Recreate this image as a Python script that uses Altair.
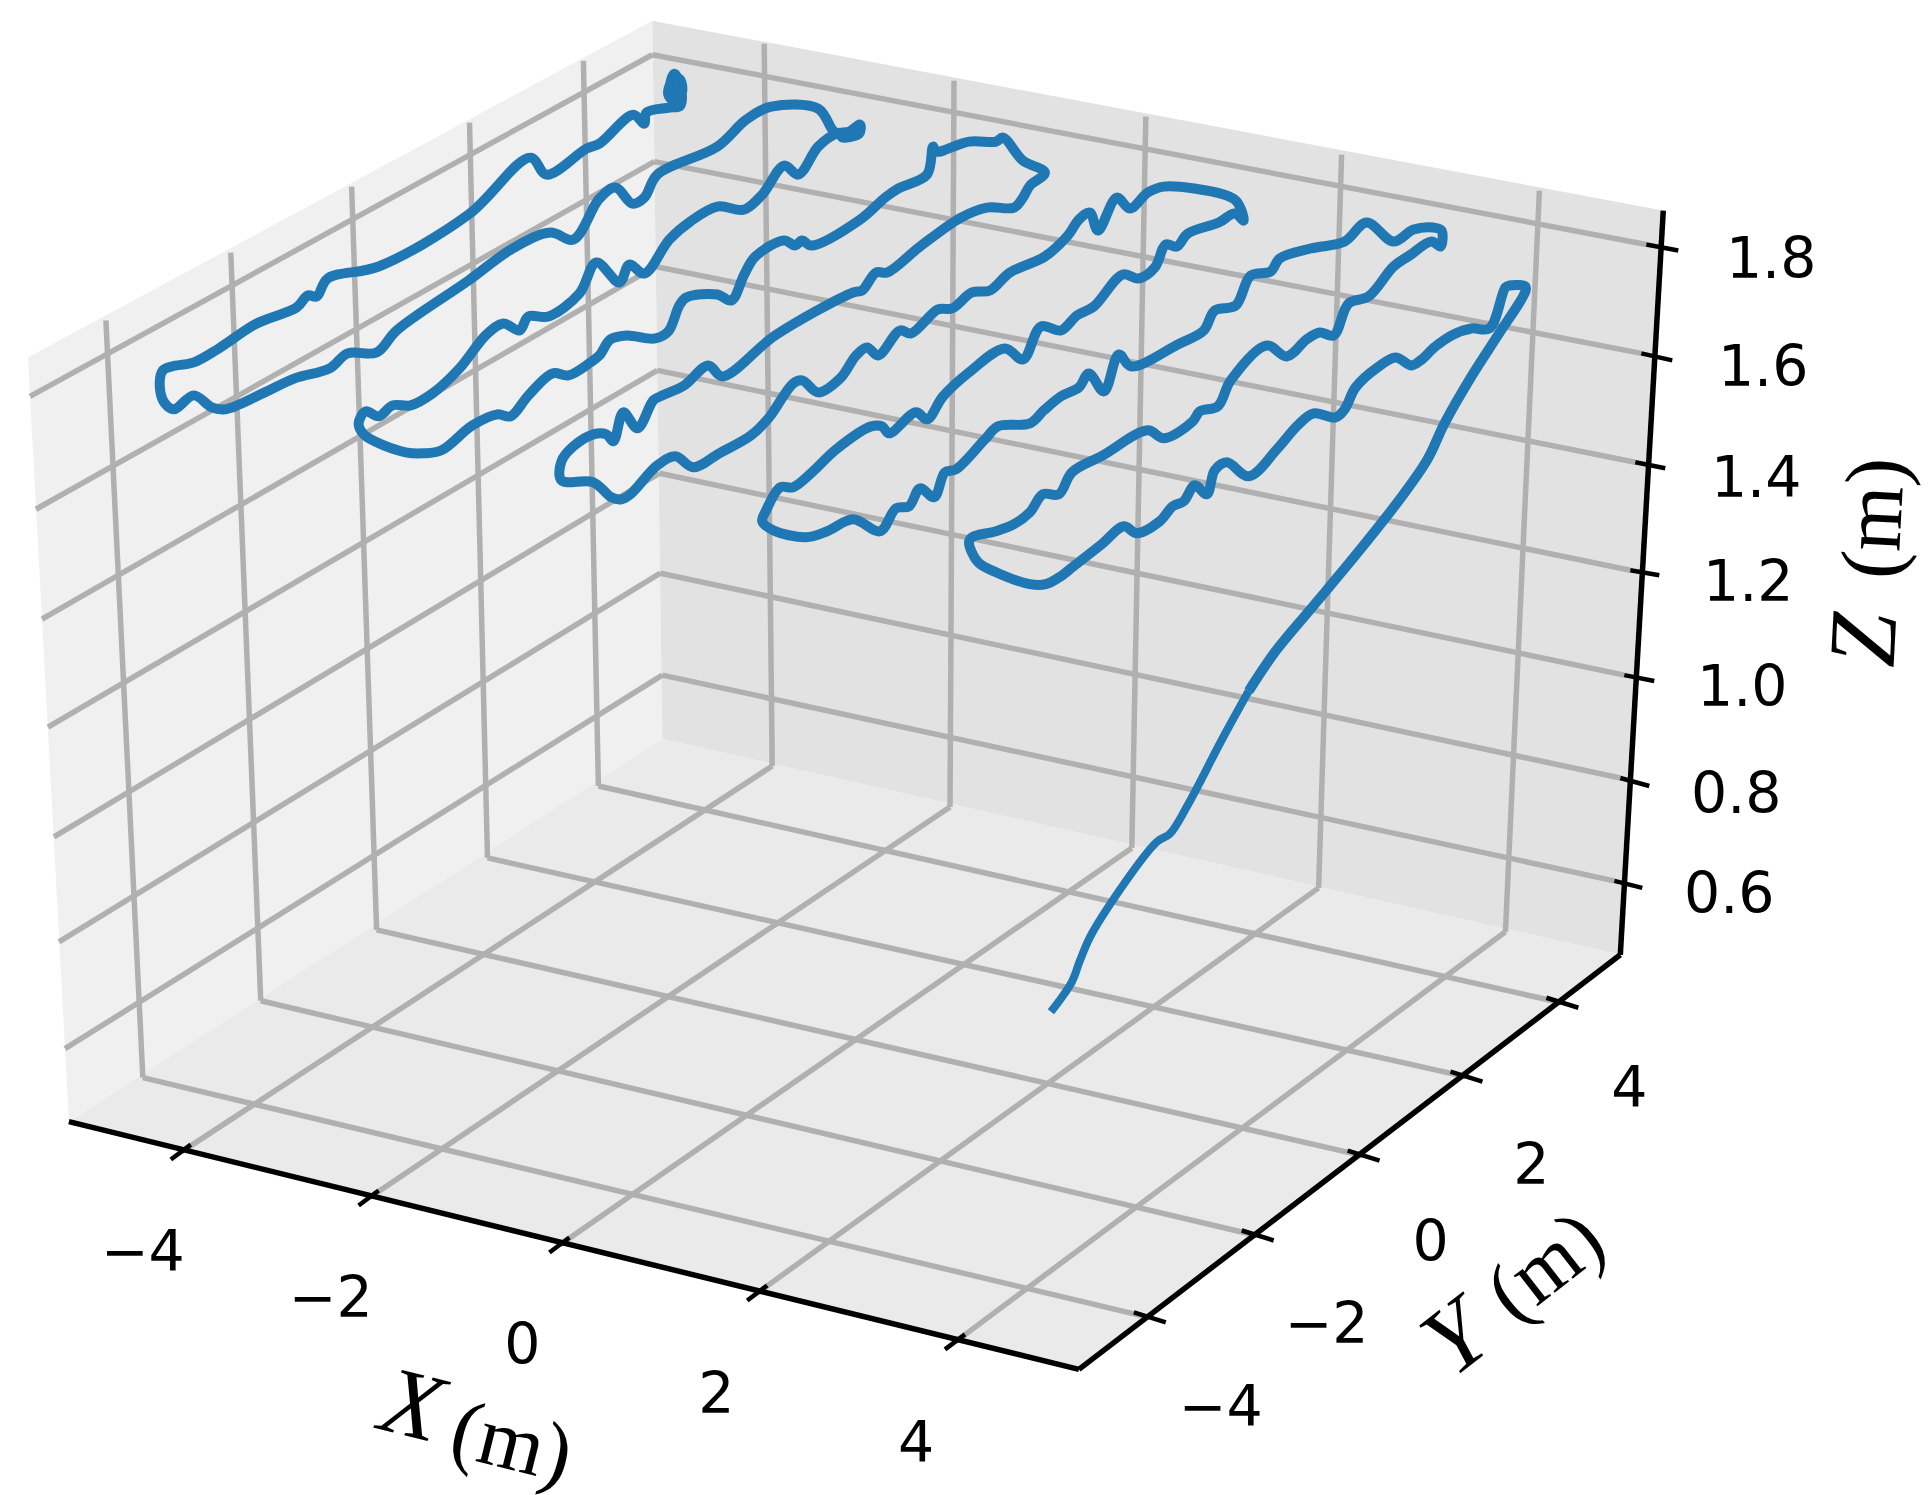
import altair as alt
import numpy as np
import pandas as pd

LEFT_PANE = [(653, 20), (28, 357), (69, 1122), (663, 739)]
RIGHT_PANE = [(653, 20), (1665, 210), (1622, 955), (663, 739)]
FLOOR_PANE = [(663, 739), (1622, 955), (1080, 1370), (69, 1122)]

X_TICK_LABELS = ["\u22124", "\u22122", "0", "2", "4"]
X_TICK_FRONT = [(182, 1152), (370, 1198), (561, 1245), (759, 1293), (957, 1342)]
X_TICK_BACK = [(773, 766), (951, 807), (1133, 848), (1320, 888), (1507, 932)]
X_TICK_TOP = [(765, 43), (955, 80), (1147, 116), (1343, 154), (1541, 190)]
X_LABEL_POS = [(143, 1255), (331, 1301), (523, 1348), (717, 1397), (917, 1446)]

Y_TICK_LABELS = ["\u22124", "\u22122", "0", "2", "4"]
Y_TICK_FRONT = [(1150, 1318), (1258, 1236), (1364, 1156), (1467, 1077), (1563, 1003)]
Y_TICK_BACK = [(143, 1078), (261, 1001), (377, 930), (488, 858), (599, 786)]
Y_TICK_TOP = [(106, 320), (231, 252), (352, 186), (470, 122), (584, 60)]
Y_LABEL_POS = [(1222, 1410), (1328, 1327), (1432, 1245), (1533, 1167), (1631, 1090)]

Z_TICK_LABELS = ["1.8", "1.6", "1.4", "1.2", "1.0", "0.8", "0.6"]
Z_TICK_IN = [(1648, 244), (1643, 353), (1637, 462), (1632, 570), (1626, 675), (1622, 778), (1616, 881)]
Z_TICK_OUT = [(1680, 250), (1674, 360), (1667, 468), (1661, 575), (1656, 681), (1651, 786), (1644, 888)]
Z_TICK_BACK = [(653, 54), (655, 161), (656, 266), (658, 370), (660, 473), (661, 573), (663, 675)]
Z_TICK_LEFT = [(30, 396), (36, 509), (42, 619), (48, 727), (54, 837), (59, 942), (65, 1049)]
Z_LABEL_POS = [(1773, 261), (1765, 369), (1758, 480), (1750, 584), (1744, 689), (1738, 796), (1731, 896)]

AXIS_EDGES = [((1665, 210), (1622, 955)), ((1622, 955), (1080, 1370)), ((69, 1122), (1080, 1370))]

# the walk: takeoff, then back and forth over the room
TAKEOFF = [
    (1052, 1012), (1073, 982), (1081, 961), (1094, 932), (1158, 842), (1171, 834), (1189, 805),
    (1223, 740), (1250, 691),
]
CLIMB = [
    (1250, 691), (1277, 651), (1312, 609), (1357, 555), (1402, 498), (1429, 459), (1446, 423), (1473, 376),
    (1500, 334), (1527, 291), (1527, 286), (1511, 285), (1507, 287), (1491, 328), (1473, 328),
    (1455, 334), (1437, 346), (1422, 360), (1413, 365), (1397, 357), (1379, 367), (1357, 387),
    (1346, 409), (1337, 417), (1315, 413), (1299, 425), (1279, 448), (1250, 476), (1228, 462),
    (1216, 470), (1208, 494), (1196, 485), (1185, 501), (1174, 506), (1161, 521), (1138, 533),
    (1125, 526), (1103, 544), (1071, 569), (1062, 576), (1047, 584), (1031, 584), (997, 572),
    (979, 562), (970, 542), (973, 537), (997, 531), (1015, 524), (1031, 512), (1044, 494),
    (1060, 494), (1073, 472), (1104, 455), (1149, 430), (1165, 438), (1194, 421), (1201, 411),
    (1219, 406), (1232, 380), (1268, 345), (1288, 356), (1308, 339), (1321, 332), (1335, 335),
    (1350, 303), (1370, 296), (1395, 266), (1411, 255), (1433, 241), (1442, 246), (1443, 230),
    (1435, 227), (1415, 229), (1395, 241), (1368, 222), (1346, 241), (1312, 248), (1281, 258),
    (1272, 271), (1252, 275), (1237, 305), (1216, 310), (1205, 330), (1179, 344), (1132, 366),
    (1120, 354), (1105, 391), (1090, 373), (1080, 387), (1062, 396), (1045, 410), (1031, 423),
    (999, 426), (986, 439), (957, 469), (946, 472), (935, 497), (921, 488), (910, 506), (897, 508),
    (881, 531), (854, 519), (828, 531), (807, 537), (774, 530), (763, 521), (767, 510), (781, 487),
    (794, 487), (814, 471), (837, 449), (872, 426), (883, 426), (890, 433), (917, 412), (928, 419),
    (944, 396), (970, 372), (1006, 348), (1024, 359), (1042, 326), (1062, 330), (1078, 315),
    (1095, 306), (1124, 274), (1140, 278), (1156, 267), (1167, 244), (1178, 246), (1189, 233),
    (1220, 222), (1236, 213), (1245, 220), (1238, 201), (1225, 194), (1165, 186), (1149, 192),
    (1131, 208), (1118, 197), (1099, 230), (1091, 212), (1080, 219), (1069, 235), (1046, 256),
    (1011, 272), (991, 290), (973, 292), (953, 308), (939, 309), (912, 333), (901, 330), (879, 355),
    (868, 347), (857, 355), (841, 378), (819, 392), (803, 380), (794, 383), (770, 417), (752, 435),
    (720, 453), (694, 467), (676, 456), (658, 465), (631, 494), (622, 499), (612, 497), (594, 482),
    (562, 480), (562, 461), (574, 446), (594, 434), (607, 434), (614, 441), (624, 412), (638, 428),
    (654, 400), (661, 396), (685, 385), (709, 365), (723, 376), (776, 335), (854, 292), (863, 290),
    (877, 272), (888, 272), (921, 246), (962, 217), (988, 207), (1015, 207), (1024, 197), (1031, 185),
    (1046, 172), (1024, 160), (1004, 137), (997, 141), (970, 141), (937, 151), (934, 146), (928, 174),
    (899, 188), (886, 197), (861, 219), (812, 245), (803, 240), (796, 245), (785, 240), (756, 256),
    (745, 274), (732, 300), (718, 294), (687, 297), (680, 305), (669, 331), (656, 338), (627, 335),
    (611, 339), (600, 355), (591, 362), (569, 375), (553, 373), (529, 395), (511, 416), (498, 414),
    (473, 425), (442, 450), (424, 453), (406, 452), (375, 441), (364, 434), (359, 423), (366, 411),
    (379, 416), (393, 405), (411, 405), (433, 393), (460, 368), (487, 334), (504, 323), (520, 330),
    (529, 316), (549, 316), (580, 293), (597, 262), (620, 282), (630, 264), (645, 273), (670, 239),
    (691, 221), (718, 206), (745, 209), (763, 194), (785, 165), (799, 174), (819, 146), (837, 133),
    (850, 131), (861, 124), (860, 133), (843, 137), (858, 128), (841, 134), (834, 130), (819, 108),
    (772, 106), (747, 119), (718, 146), (658, 174), (645, 197), (633, 203), (616, 187), (600, 198),
    (574, 239), (551, 232), (513, 248), (469, 280), (397, 330), (377, 352), (348, 353), (330, 368),
    (295, 378), (263, 393), (225, 409), (212, 407), (194, 395), (174, 409), (165, 403), (160, 387),
    (163, 370), (172, 366), (194, 362), (219, 348), (257, 323), (297, 307), (308, 295), (317, 296),
    (328, 278), (379, 266), (469, 214), (531, 157), (547, 174), (587, 148), (600, 143), (634, 114),
    (645, 123), (647, 112), (670, 107), (681, 105), (681, 84), (675, 73), (671, 85), (678, 100),
    (683, 90), (680, 78), (672, 82), (669, 94), (678, 104),
]

LINE_COLOUR = "#1f77b4"
GRID_COLOUR = "#b0b0b0"
SERIF = "Liberation Serif"
SANS = "DejaVu Sans"

x_enc = alt.X("x:Q", scale=alt.Scale(domain=[8, 1922], nice=False, zero=False), axis=None)
y_enc = alt.Y("y:Q", scale=alt.Scale(domain=[1487, 8], nice=False, zero=False), axis=None)


def pane(corners, colour):
    """Convex polygon as an area: top and bottom outline sampled at the corner xs."""
    pts = sorted(corners)
    left, right = pts[0], pts[-1]
    xs = [p[0] for p in pts]
    chord = lambda px: left[1] + (right[1] - left[1]) * (px - left[0]) / (right[0] - left[0])
    upper = [left] + [p for p in pts[1:-1] if p[1] < chord(p[0])] + [right]
    lower = [left] + [p for p in pts[1:-1] if p[1] >= chord(p[0])] + [right]
    df = pd.DataFrame({
        "x": xs,
        "y": np.interp(xs, [p[0] for p in upper], [p[1] for p in upper]),
        "y2": np.interp(xs, [p[0] for p in lower], [p[1] for p in lower]),
    })
    return alt.Chart(df).mark_area(color=colour, opacity=1).encode(x=x_enc, y=y_enc, y2="y2:Q")


def segments(starts, ends, colour, width):
    df = pd.DataFrame({
        "x": [p[0] for p in starts], "y": [p[1] for p in starts],
        "x2": [p[0] for p in ends], "y2": [p[1] for p in ends],
    })
    return alt.Chart(df).mark_rule(color=colour, strokeWidth=width).encode(
        x=x_enc, y=y_enc, x2="x2:Q", y2="y2:Q"
    )


def path(points, width):
    df = pd.DataFrame(points, columns=["x", "y"])
    df["i"] = range(len(df))
    return alt.Chart(df).mark_line(
        color=LINE_COLOUR, strokeWidth=width, strokeJoin="round", interpolate="catmull-rom"
    ).encode(x=x_enc, y=y_enc, order="i:Q")


def tick_text(labels, positions):
    df = pd.DataFrame({
        "x": [p[0] for p in positions], "y": [p[1] for p in positions], "label": labels,
    })
    return alt.Chart(df).mark_text(
        font=SANS, fontSize=57, color="black", align="center", baseline="middle"
    ).encode(x=x_enc, y=y_enc, text="label:N")


def label(text, pos, angle, style="normal", size=84):
    df = pd.DataFrame({"x": [pos[0]], "y": [pos[1]], "label": [text]})
    return alt.Chart(df).mark_text(
        font=SERIF, fontSize=size, fontStyle=style, color="black", angle=angle,
        align="center", baseline="middle"
    ).encode(x=x_enc, y=y_enc, text="label:N")


def ticks_through(front, dx0, dy0, dx1, dy1):
    starts = [(p[0] + dx0, p[1] + dy0) for p in front]
    ends = [(p[0] + dx1, p[1] + dy1) for p in front]
    return segments(starts, ends, "black", 4.5)


chart = alt.layer(
    pane(LEFT_PANE, "#f0f0f0"),
    pane(RIGHT_PANE, "#e2e2e2"),
    pane(FLOOR_PANE, "#eaeaea"),
    segments(X_TICK_FRONT, X_TICK_BACK, GRID_COLOUR, 5.5),
    segments(X_TICK_BACK, X_TICK_TOP, GRID_COLOUR, 5.5),
    segments(Y_TICK_FRONT, Y_TICK_BACK, GRID_COLOUR, 5.5),
    segments(Y_TICK_BACK, Y_TICK_TOP, GRID_COLOUR, 5.5),
    segments(Z_TICK_IN, Z_TICK_BACK, GRID_COLOUR, 5.5),
    segments(Z_TICK_BACK, Z_TICK_LEFT, GRID_COLOUR, 5.5),
    segments([e[0] for e in AXIS_EDGES], [e[1] for e in AXIS_EDGES], "black", 5.5),
    segments(Z_TICK_IN, Z_TICK_OUT, "black", 4.5),
    ticks_through(X_TICK_FRONT, -11, 8, 9, -7),
    ticks_through(Y_TICK_FRONT, -15, -5, 17, 5),
    path(TAKEOFF, 8),
    path(CLIMB, 10),
    tick_text(X_TICK_LABELS, X_LABEL_POS),
    tick_text(Y_TICK_LABELS, Y_LABEL_POS),
    tick_text(Z_TICK_LABELS, Z_LABEL_POS),
    label("X", (412, 1408), 14, "italic", 96),
    label("(m)", (512, 1445), 14),
    label("Y", (1458, 1340), 322, "italic", 96),
    label("(m)", (1548, 1268), 322),
    label("Z", (1868, 640), 273, "italic", 96),
    label("(m)", (1878, 518), 273),
).properties(width=1914, height=1479, padding=0).configure_view(stroke=None)

chart.save("out.html", embed_options={"renderer": "svg", "actions": False})
